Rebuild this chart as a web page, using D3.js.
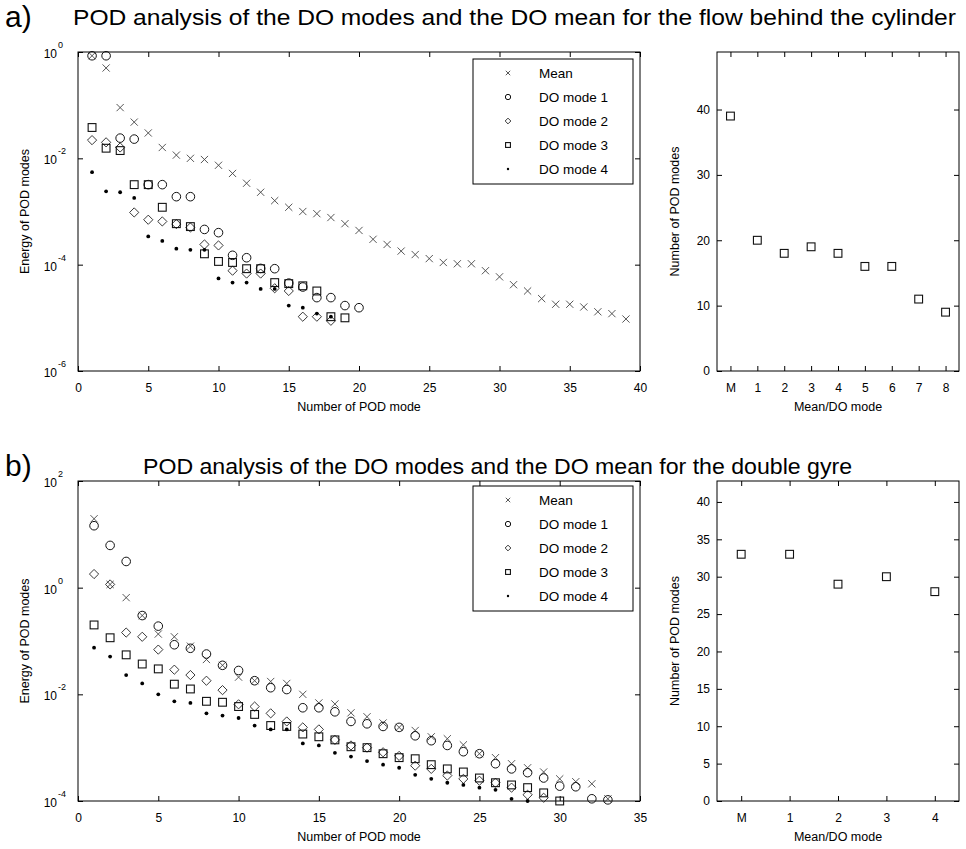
<!DOCTYPE html>
<html>
<head>
<meta charset="utf-8">
<script src="https://cdn.jsdelivr.net/npm/d3@7"></script>
<style>
  body { margin: 0; background: #fff; }
  text { font-family: "Liberation Sans", Arial, Helvetica, sans-serif; fill: #000; }
  .axis text { font-size: 12px; }
  .axis-label { font-size: 12.5px; }
  .legend text { font-size: 13.5px; }
  .title { font-size: 22px; }
  .panel-tag { font-size: 30px; }
</style>
</head>
<body>
<div id="vis"></div>
<script>
/*************** DATA ***************/
// energy of POD modes, index = POD mode number (1..n)
// a) flow behind the cylinder
var meanA = [0.85, 0.5, 0.09, 0.048, 0.030, 0.016, 0.0115, 0.010, 0.0095, 0.0074,
  0.0052, 0.0034, 0.0023, 0.0016, 0.0012, 0.0010, 0.00091, 0.00077, 0.00059, 0.00044,
  0.00030, 0.00024, 0.00018, 0.000155, 0.00013, 0.00011, 0.000104, 0.000104, 0.000077, 0.000059,
  0.000042, 0.000032, 0.000023, 0.000018, 0.000018, 0.000016, 0.000013, 0.000012, 0.0000095];
var do1A = [0.85, 0.85, 0.024, 0.023, 0.0032, 0.0032, 0.0019, 0.0019, 0.00046, 0.0004,
  0.00015, 0.000135, 0.000085, 0.000084, 0.000045, 0.000038, 0.000024, 0.000024, 0.000017, 0.0000155];
var do2A = [0.022, 0.02, 0.016, 0.00096, 0.0007, 0.00065, 0.00058, 0.0005, 0.00024, 0.00023,
  0.000077, 0.000068, 0.000068, 0.000036, 0.000032, 0.0000105, 0.0000105, 0.0000088];
var do3A = [0.038, 0.0155, 0.014, 0.0032, 0.0032, 0.0012, 0.00059, 0.00052, 0.00016, 0.000115,
  0.00011, 0.000084, 0.000084, 0.000046, 0.000044, 0.00004, 0.000032, 0.0000105, 0.00001];
var do4A = [0.0055, 0.0024, 0.0023, 0.0018, 0.00034, 0.00028, 0.0002, 0.00019, 0.00019, 0.000055,
  0.000046, 0.000046, 0.000035, 0.000035, 0.000017, 0.0000155, 0.000012, 0.0000105];

// b) double gyre
var meanB = [19.6, 1.15, 0.65, 0.30, 0.135, 0.12, 0.08, 0.045, 0.035, 0.021,
  0.018, 0.0174, 0.016, 0.010, 0.0069, 0.0066, 0.0045, 0.0038, 0.0029, 0.0024,
  0.0021, 0.0016, 0.00147, 0.00113, 0.00077, 0.00065, 0.0005, 0.00042, 0.00035, 0.00026,
  0.00023, 0.00021, 0.00011];
var do1B = [14.5, 6.2, 3.1, 0.30, 0.19, 0.085, 0.073, 0.057, 0.035, 0.028,
  0.018, 0.0133, 0.0123, 0.0056, 0.0056, 0.0047, 0.0031, 0.0028, 0.0025, 0.0024,
  0.00167, 0.00135, 0.0011, 0.00084, 0.00077, 0.0005, 0.0004, 0.00034, 0.00027, 0.00019,
  0.000185, 0.00011, 0.000105];
var do2B = [1.8, 1.15, 0.144, 0.12, 0.069, 0.029, 0.023, 0.018, 0.012, 0.0065,
  0.0059, 0.0044, 0.0031, 0.0024, 0.0022, 0.0014, 0.0011, 0.001, 0.00082, 0.0007,
  0.00046, 0.0004, 0.0003, 0.00026, 0.00024, 0.00022, 0.000178, 0.000131, 0.000115];
var do3B = [0.2, 0.115, 0.055, 0.037, 0.030, 0.0155, 0.0126, 0.0074, 0.0071, 0.0059,
  0.0042, 0.0026, 0.0025, 0.0018, 0.0016, 0.0014, 0.00104, 0.001, 0.00077, 0.00065,
  0.00062, 0.00048, 0.0004, 0.00035, 0.00027, 0.00022, 0.0002, 0.000178, 0.000142, 0.0001];
var do4B = [0.075, 0.051, 0.023, 0.016, 0.010, 0.0074, 0.0069, 0.0044, 0.0040, 0.0036,
  0.0026, 0.0022, 0.0022, 0.0012, 0.0011, 0.0008, 0.00068, 0.00056, 0.00048, 0.00042,
  0.00031, 0.00026, 0.00022, 0.0002, 0.000178, 0.000162, 0.00011, 0.0001];

// number of POD modes per mean / DO mode
var modeCatsA = ['M', '1', '2', '3', '4', '5', '6', '7', '8'];
var modeCountA = [39, 20, 18, 19, 18, 16, 16, 11, 9];
var modeCatsB = ['M', '1', '2', '3', '4'];
var modeCountB = [33, 33, 29, 30, 28];

var seriesNames = ['Mean', 'DO mode 1', 'DO mode 2', 'DO mode 3', 'DO mode 4'];
var markerTypes = ['x', 'o', 'd', 's', 'dot'];

// tick labels
var xTicksA = [0, 5, 10, 15, 20, 25, 30, 35, 40];
var xTicksB = [0, 5, 10, 15, 20, 25, 30, 35];
var expTicksA = [0, -2, -4, -6];
var expTicksB = [2, 0, -2, -4];
var countTicksA = [0, 10, 20, 30, 40];
var countTicksB = [0, 5, 10, 15, 20, 25, 30, 35, 40];

/*************** DRAW ***************/
const width = 966;
const height = 849;

const svg = d3.select('#vis').append('svg')
  .attr('width', width)
  .attr('height', height);

// marker shapes, drawn round (0,0); scale k for the legend
function marker(sel, type, k) {
  k = k || 1;
  if (type === 'x') {
    const s = 3.6 * k;
    sel.append('path')
      .attr('d', `M${-s},${-s}L${s},${s}M${-s},${s}L${s},${-s}`)
      .attr('stroke', '#444').attr('stroke-width', 0.9).attr('fill', 'none');
  } else if (type === 'o') {
    sel.append('circle').attr('r', 4.3 * k)
      .attr('stroke', '#111').attr('stroke-width', 1).attr('fill', 'none');
  } else if (type === 'd') {
    const s = 4.6 * k;
    sel.append('path')
      .attr('d', `M0,${-s}L${s},0L0,${s}L${-s},0Z`)
      .attr('stroke', '#222').attr('stroke-width', 0.9).attr('fill', 'none');
  } else if (type === 's') {
    const s = 3.9 * k;
    sel.append('rect').attr('x', -s).attr('y', -s).attr('width', 2 * s).attr('height', 2 * s)
      .attr('stroke', '#111').attr('stroke-width', 1.1).attr('fill', 'none');
  } else {
    sel.append('circle').attr('r', 1.9 * k).attr('fill', '#000');
  }
}

// four-sided box with inward ticks (matlab style)
function boxAxes(g, x, y, box, xAxisFn, yAxisFn) {
  g.append('rect')
    .attr('x', box.x0).attr('y', box.y0)
    .attr('width', box.x1 - box.x0).attr('height', box.y1 - box.y0)
    .attr('fill', 'none').attr('stroke', '#000').attr('stroke-width', 1);

  const bottom = g.append('g').attr('class', 'axis')
    .attr('transform', `translate(0,${box.y1})`).call(xAxisFn(d3.axisBottom(x)));
  const top = g.append('g').attr('class', 'axis')
    .attr('transform', `translate(0,${box.y0})`).call(xAxisFn(d3.axisTop(x)).tickFormat(''));
  const left = g.append('g').attr('class', 'axis')
    .attr('transform', `translate(${box.x0},0)`).call(yAxisFn(d3.axisLeft(y)));
  const right = g.append('g').attr('class', 'axis')
    .attr('transform', `translate(${box.x1},0)`).call(yAxisFn(d3.axisRight(y)).tickFormat(''));

  [bottom, top, left, right].forEach(a => a.select('.domain').remove());
  return { bottom, left };
}

function drawEnergyPanel(cfg) {
  const g = svg.append('g');
  const box = cfg.box;

  const x = d3.scaleLinear().domain([0, cfg.xMax]).range([box.x0, box.x1]);
  const y = d3.scaleLog()
    .domain([Math.pow(10, cfg.expMin), Math.pow(10, cfg.expMax)])
    .range([box.y1, box.y0]);

  boxAxes(g, x, y, box,
    a => a.tickValues(cfg.xTicks).tickSize(-5).tickSizeOuter(0).tickPadding(12),
    a => a.tickValues(cfg.expTicks.map(e => Math.pow(10, e))).tickSize(-5).tickSizeOuter(0).tickFormat(''));

  // 10^n labels with superscript
  const lab = g.selectAll('.logLabel')
    .data(cfg.expTicks)
    .enter()
    .append('g')
    .attr('class', 'logLabel axis')
    .attr('transform', d => `translate(${box.x0},${y(Math.pow(10, d))})`);
  lab.append('text').attr('x', -21).attr('y', 6).attr('text-anchor', 'end').text('10');
  lab.append('text').attr('x', -20).attr('y', -4).style('font-size', '9px')
    .text(d => d < 0 ? '-' + Math.abs(d) : d);

  // axis titles
  g.append('text').attr('class', 'axis-label')
    .attr('x', (box.x0 + box.x1) / 2).attr('y', box.y1 + 40)
    .attr('text-anchor', 'middle').text('Number of POD mode');
  g.append('text').attr('class', 'axis-label')
    .attr('transform', `translate(29,${(box.y0 + box.y1) / 2}) rotate(-90)`)
    .attr('text-anchor', 'middle').text('Energy of POD modes');

  // series
  cfg.series.forEach((values, si) => {
    g.append('g').selectAll('g')
      .data(values)
      .enter()
      .append('g')
      .attr('transform', (d, i) => `translate(${x(i + 1)},${y(d)})`)
      .each(function() { marker(d3.select(this), markerTypes[si]); });
  });

  // legend
  const lg = g.append('g').attr('class', 'legend')
    .attr('transform', `translate(${cfg.legend.x},${cfg.legend.y})`);
  lg.append('rect').attr('width', 160).attr('height', 125)
    .attr('fill', '#fff').attr('stroke', '#000').attr('stroke-width', 1);
  const rows = lg.selectAll('.row')
    .data(seriesNames)
    .enter()
    .append('g')
    .attr('class', 'row')
    .attr('transform', (d, i) => `translate(0,${14 + i * 24})`);
  rows.each(function(d, i) { marker(d3.select(this).append('g').attr('transform', 'translate(35,0)'), markerTypes[i], 0.62); });
  rows.append('text').attr('x', 66).attr('dy', '0.36em').text(d => d);
}

function drawCountPanel(cfg) {
  const g = svg.append('g');
  const box = cfg.box;

  const x = d3.scalePoint().domain(cfg.cats).range([box.x0, box.x1]).padding(0.5);
  const y = d3.scaleLinear().domain([0, cfg.yMax]).range([box.y1, box.y0]);

  boxAxes(g, x, y, box,
    a => a.tickSize(-5).tickSizeOuter(0).tickPadding(12),
    a => a.tickValues(cfg.yTicks).tickSize(-5).tickSizeOuter(0).tickPadding(7));

  g.append('text').attr('class', 'axis-label')
    .attr('x', (box.x0 + box.x1) / 2).attr('y', box.y1 + 40)
    .attr('text-anchor', 'middle').text('Mean/DO mode');
  g.append('text').attr('class', 'axis-label')
    .attr('transform', `translate(679,${(box.y0 + box.y1) / 2}) rotate(-90)`)
    .attr('text-anchor', 'middle').text('Number of POD modes');

  g.append('g').selectAll('g')
    .data(cfg.counts)
    .enter()
    .append('g')
    .attr('transform', (d, i) => `translate(${x(cfg.cats[i])},${y(d)})`)
    .each(function() { marker(d3.select(this), 's'); });
}

/*************** PANEL a ***************/
svg.append('text').attr('class', 'panel-tag').attr('x', 5).attr('y', 27).text('a)');
svg.append('text').attr('class', 'title').attr('x', 73).attr('y', 25)
  .attr('textLength', 883).attr('lengthAdjust', 'spacingAndGlyphs')
  .text('POD analysis of the DO modes and the DO mean for the flow behind the cylinder');

drawEnergyPanel({
  box: { x0: 78, x1: 640, y0: 52, y1: 371 },
  xMax: 40, expMin: -6, expMax: 0,
  xTicks: xTicksA, expTicks: expTicksA,
  series: [meanA, do1A, do2A, do3A, do4A],
  legend: { x: 473, y: 59 }
});
drawCountPanel({
  box: { x0: 717, x1: 959, y0: 52, y1: 371 },
  cats: modeCatsA, counts: modeCountA, yMax: 48.8, yTicks: countTicksA
});

/*************** PANEL b ***************/
svg.append('text').attr('class', 'panel-tag').attr('x', 5).attr('y', 476).text('b)');
svg.append('text').attr('class', 'title').attr('x', 143).attr('y', 474)
  .attr('textLength', 709).attr('lengthAdjust', 'spacingAndGlyphs')
  .text('POD analysis of the DO modes and the DO mean for the double gyre');

drawEnergyPanel({
  box: { x0: 78, x1: 640, y0: 481, y1: 801 },
  xMax: 35, expMin: -4, expMax: 2,
  xTicks: xTicksB, expTicks: expTicksB,
  series: [meanB, do1B, do2B, do3B, do4B],
  legend: { x: 473, y: 486 }
});
drawCountPanel({
  box: { x0: 717, x1: 959, y0: 481, y1: 801 },
  cats: modeCatsB, counts: modeCountB, yMax: 42.8, yTicks: countTicksB
});
</script>
</body>
</html>
